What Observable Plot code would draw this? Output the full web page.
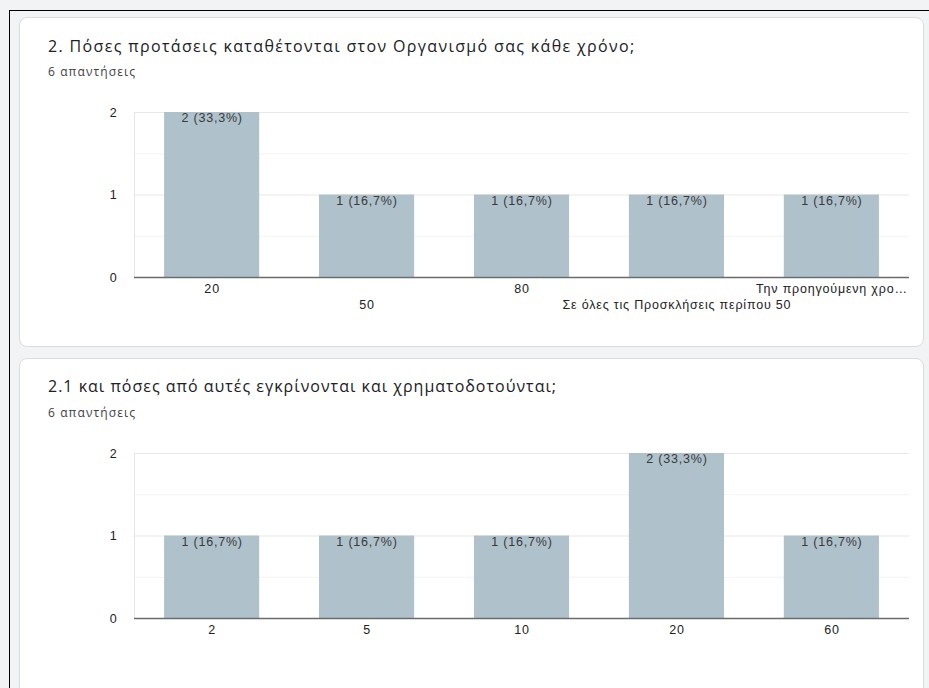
<!DOCTYPE html>
<html>
<head>
<meta charset="utf-8">
<script src="https://cdn.jsdelivr.net/npm/d3@7"></script>
<script src="https://cdn.jsdelivr.net/npm/@observablehq/plot@0.6"></script>
<style>
  html, body { margin: 0; padding: 0; }
  body { width: 929px; height: 688px; background: #f1f3f4; position: relative; overflow: hidden; font-family: "Liberation Sans", Arial, sans-serif; }
  .frame { position: absolute; left: 9px; top: 10px; width: 940px; height: 700px; border-left: 1px solid #000; border-top: 1px solid #000; }
  .card { position: absolute; left: 19px; width: 903px; background: #fff; border: 1px solid #dadce0; border-radius: 8px; }
  .title { position: absolute; left: 28px; font-family: "Open Sans", sans-serif; font-size: 16px; color: #202124; letter-spacing: 1.35px; white-space: nowrap; }
  .sub { position: absolute; left: 28px; font-family: "Open Sans", sans-serif; font-size: 12px; color: #3c4043; letter-spacing: 1.1px; white-space: nowrap; }
  .chart { position: absolute; left: 0; }
  .chart svg { font-family: "Liberation Sans", Arial, sans-serif; letter-spacing: 0.8px; }
</style>
</head>
<body>
<div class="frame"></div>
<div class="card" style="top:17px;height:328px;">
  <div class="title" style="top:17px;">2. Πόσες προτάσεις καταθέτονται στον Οργανισμό σας κάθε χρόνο;</div>
  <div class="sub" style="top:45px;">6 απαντήσεις</div>
</div>
<div class="card" style="top:358px;height:340px;">
  <div class="title" style="top:16px;letter-spacing:1px;">2.1 και πόσες από αυτές εγκρίνονται και χρηματοδοτούνται;</div>
  <div class="sub" style="top:45px;">6 απαντήσεις</div>
</div>
<div class="chart" id="c1" style="top:100px;"></div>
<div class="chart" id="c2" style="top:441px;"></div>
<script>
// Chart 1 data
const cats1 = ["20", "50", "80", "Σε όλες τις Προσκλήσεις περίπου 50", "Την προηγούμενη χρο…"];
const counts1 = [2, 1, 1, 1, 1];
const labels1 = ["2 (33,3%)", "1 (16,7%)", "1 (16,7%)", "1 (16,7%)", "1 (16,7%)"];
// Chart 2 data
const cats2 = ["2", "5", "10", "20", "60"];
const counts2 = [1, 1, 1, 2, 1];
const labels2 = ["1 (16,7%)", "1 (16,7%)", "1 (16,7%)", "2 (33,3%)", "1 (16,7%)"];
const yTicks = [0, 1, 2];
const minorTicks = [0.5, 1.5];

function makeChart(cats, counts, labels, stagger) {
  const data = cats.map((c, i) => ({cat: c, n: counts[i], label: labels[i], i}));
  const row1 = stagger ? cats.filter((d, i) => i % 2 === 0) : cats;
  const row2 = stagger ? cats.filter((d, i) => i % 2 === 1) : [];
  return Plot.plot({
    width: 929,
    height: 218,
    marginLeft: 134,
    marginRight: 20,
    marginTop: 12,
    marginBottom: 41,
    style: {fontSize: "12.5px", color: "#444", background: "transparent"},
    x: {type: "band", domain: cats, paddingInner: 0.386, paddingOuter: 0.194, align: 0.5, round: false, label: null, axis: null},
    y: {domain: [0, 2], label: null, axis: null},
    marks: [
      Plot.ruleY(minorTicks, {stroke: "#f3f3f3", strokeWidth: 1}),
      Plot.ruleY([1, 2], {stroke: "#e8e8e8", strokeWidth: 1}),
      Plot.frame({anchor: "left", stroke: "#e6e6e6"}),
      Plot.barY(data, {x: "cat", y: "n", fill: "#afc2cc"}),
      Plot.ruleY([0], {stroke: "#6b6b6b", strokeWidth: 1.5}),
      Plot.text(data, {x: "cat", y: "n", text: "label", lineAnchor: "top", dy: 1, fill: "#3a3a3a", fontSize: 12.5}),
      Plot.axisY(yTicks, {tickSize: 0, tickPadding: 17, fontSize: 12.5, color: "#222", tickFormat: d => String(d), label: null}),
      Plot.axisX(row1, {tickSize: 0, tickPadding: 7, fontSize: 12.5, color: "#222", label: null}),
      ...(row2.length ? [Plot.axisX(row2, {tickSize: 0, tickPadding: 23, fontSize: 12.5, color: "#222", label: null})] : [])
    ]
  });
}
document.getElementById("c1").appendChild(makeChart(cats1, counts1, labels1, true));
document.getElementById("c2").appendChild(makeChart(cats2, counts2, labels2, false));
</script>
</body>
</html>
